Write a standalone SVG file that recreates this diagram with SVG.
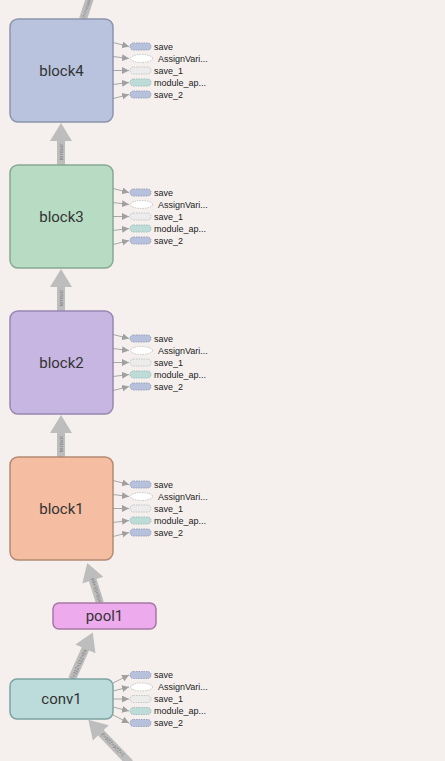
<svg xmlns="http://www.w3.org/2000/svg" width="445" height="761" viewBox="0 0 445 761">
<defs>
<marker id="ah" markerUnits="userSpaceOnUse" markerWidth="9" markerHeight="8" refX="7" refY="3.5" orient="auto"><path d="M0,0 L7,3.5 L0,7 z" fill="#a0a0a0"/></marker>
</defs>
<style>
.bg{fill:#f5f0ee}
.big{fill:#bdbdbd}
.elab{font-family:"Liberation Sans",Arial,sans-serif;font-size:6px;fill:#7a7a7a;text-anchor:middle;dominant-baseline:central}
.nlab{font-family:Roboto,"Liberation Sans",sans-serif;font-size:15px;fill:#333;text-anchor:middle;dominant-baseline:central}
.slab{font-family:"Liberation Sans",Arial,sans-serif;font-size:9px;fill:#222;dominant-baseline:central}
.side line{stroke:#a8a8a8;stroke-width:1;marker-end:url(#ah)}
.pill{stroke-width:1;stroke-dasharray:1.5 1}
.p-save{fill:#b7c1db;stroke:#9aa3bb}
.p-assign{fill:#ffffff;stroke:#c8c8c8}
.p-save1{fill:#ececec;stroke:#c6c6c6}
.p-mod{fill:#bddcd8;stroke:#a0bfbb}
.blk{stroke-width:1.5}
</style>
<rect class="bg" x="0" y="0" width="445" height="761"/>

<g id="connectors">
  <!-- top output of block4 -->
  <g transform="translate(83,19) rotate(18.4)">
    <polygon class="big" points="4,0 4,-40 -4,-40 -4,0"/>
    <text class="elab" style="font-size:4px" transform="translate(0,-8.5) rotate(-90)">1×7×7×2048</text>
  </g>
  <!-- block3 -> block4 -->
  <polygon class="big" points="61,123 72,141 65,141 65,165 57,165 57,141 50,141"/>
  <text class="elab" transform="translate(61,152) rotate(-90)">tensor</text>
  <!-- block2 -> block3 -->
  <polygon class="big" points="61,269 72,287 65,287 65,311 57,311 57,287 50,287"/>
  <text class="elab" transform="translate(61,298) rotate(-90)">tensor</text>
  <!-- block1 -> block2 -->
  <polygon class="big" points="61,415 72,433 65,433 65,457 57,457 57,433 50,433"/>
  <text class="elab" transform="translate(61,444) rotate(-90)">tensor</text>
  <!-- pool1 -> block1 -->
  <g transform="translate(100,603) rotate(-17.6)">
    <polygon class="big" points="0,-42 11,-24 4,-24 4,0 -4,0 -4,-24 -11,-24"/>
    <text class="elab" style="font-size:5px" transform="translate(0,-12) rotate(-90)">1×56×56×64</text>
  </g>
  <!-- conv1 -> pool1 -->
  <g transform="translate(72,679) rotate(24)">
    <polygon class="big" points="0,-51 11,-33 4,-33 4,0 -4,0 -4,-33 -11,-33"/>
    <text class="elab" style="font-size:5px" transform="translate(0,-16) rotate(-90)">1×112×112×64</text>
  </g>
  <!-- input -> conv1 -->
  <g transform="translate(130,763) rotate(-44)">
    <polygon class="big" points="0,-60 11,-42 4,-42 4,0 -4,0 -4,-42 -11,-42"/>
    <text class="elab" style="font-size:5px" transform="translate(0,-25) rotate(-90)">1×224×224×3</text>
  </g>

  <!-- side connectors -->
  <g class="side">
    <line x1="113" y1="42.5" x2="129" y2="46.5"/><line x1="113" y1="56.5" x2="129" y2="58.5"/><line x1="113" y1="70.5" x2="129" y2="70.5"/><line x1="113" y1="84.5" x2="129" y2="82.5"/><line x1="113" y1="98.5" x2="129" y2="94.5"/>
    <line x1="113" y1="188.5" x2="129" y2="192.5"/><line x1="113" y1="202.5" x2="129" y2="204.5"/><line x1="113" y1="216.5" x2="129" y2="216.5"/><line x1="113" y1="230.5" x2="129" y2="228.5"/><line x1="113" y1="244.5" x2="129" y2="240.5"/>
    <line x1="113" y1="334.5" x2="129" y2="338.5"/><line x1="113" y1="348.5" x2="129" y2="350.5"/><line x1="113" y1="362.5" x2="129" y2="362.5"/><line x1="113" y1="376.5" x2="129" y2="374.5"/><line x1="113" y1="390.5" x2="129" y2="386.5"/>
    <line x1="113" y1="480.5" x2="129" y2="484.5"/><line x1="113" y1="494.5" x2="129" y2="496.5"/><line x1="113" y1="508.5" x2="129" y2="508.5"/><line x1="113" y1="522.5" x2="129" y2="520.5"/><line x1="113" y1="536.5" x2="129" y2="532.5"/>
    <line x1="113" y1="683" x2="129" y2="675"/><line x1="113" y1="691" x2="129" y2="687"/><line x1="113" y1="699" x2="129" y2="699"/><line x1="113" y1="707" x2="129" y2="711"/><line x1="113" y1="715" x2="129" y2="723"/>
  </g>
</g>

<g id="block4">
  <rect class="blk" x="10" y="19" width="103" height="103" rx="8" fill="#b9c3de" stroke="#8b95ad"/>
  <text class="nlab" x="61.5" y="70.5">block4</text>
</g>
<g id="block4_side">
  <rect class="pill p-save" x="130" y="43" width="21" height="7" rx="3.5"/><text class="slab" x="154" y="46.5">save</text>
  <ellipse class="pill p-assign" cx="141.5" cy="58.5" rx="11" ry="4"/><text class="slab" x="158" y="58.5">AssignVari...</text>
  <rect class="pill p-save1" x="130" y="67" width="21" height="7" rx="3.5"/><text class="slab" x="154" y="70.5">save_1</text>
  <rect class="pill p-mod" x="130" y="79" width="21" height="7" rx="3.5"/><text class="slab" x="154" y="82.5">module_ap...</text>
  <rect class="pill p-save" x="130" y="91" width="21" height="7" rx="3.5"/><text class="slab" x="154" y="94.5">save_2</text>
</g>

<g id="block3">
  <rect class="blk" x="10" y="165" width="103" height="103" rx="8" fill="#b8dcc3" stroke="#87a892"/>
  <text class="nlab" x="61.5" y="216.5">block3</text>
</g>
<g id="block3_side">
  <rect class="pill p-save" x="130" y="189" width="21" height="7" rx="3.5"/><text class="slab" x="154" y="192.5">save</text>
  <ellipse class="pill p-assign" cx="141.5" cy="204.5" rx="11" ry="4"/><text class="slab" x="158" y="204.5">AssignVari...</text>
  <rect class="pill p-save1" x="130" y="213" width="21" height="7" rx="3.5"/><text class="slab" x="154" y="216.5">save_1</text>
  <rect class="pill p-mod" x="130" y="225" width="21" height="7" rx="3.5"/><text class="slab" x="154" y="228.5">module_ap...</text>
  <rect class="pill p-save" x="130" y="237" width="21" height="7" rx="3.5"/><text class="slab" x="154" y="240.5">save_2</text>
</g>

<g id="block2">
  <rect class="blk" x="10" y="311" width="103" height="103" rx="8" fill="#c7b6e2" stroke="#9787b1"/>
  <text class="nlab" x="61.5" y="362.5">block2</text>
</g>
<g id="block2_side">
  <rect class="pill p-save" x="130" y="335" width="21" height="7" rx="3.5"/><text class="slab" x="154" y="338.5">save</text>
  <ellipse class="pill p-assign" cx="141.5" cy="350.5" rx="11" ry="4"/><text class="slab" x="158" y="350.5">AssignVari...</text>
  <rect class="pill p-save1" x="130" y="359" width="21" height="7" rx="3.5"/><text class="slab" x="154" y="362.5">save_1</text>
  <rect class="pill p-mod" x="130" y="371" width="21" height="7" rx="3.5"/><text class="slab" x="154" y="374.5">module_ap...</text>
  <rect class="pill p-save" x="130" y="383" width="21" height="7" rx="3.5"/><text class="slab" x="154" y="386.5">save_2</text>
</g>

<g id="block1">
  <rect class="blk" x="10" y="457" width="103" height="103" rx="8" fill="#f5bda2" stroke="#b38973"/>
  <text class="nlab" x="61.5" y="508.5">block1</text>
</g>
<g id="block1_side">
  <rect class="pill p-save" x="130" y="481" width="21" height="7" rx="3.5"/><text class="slab" x="154" y="484.5">save</text>
  <ellipse class="pill p-assign" cx="141.5" cy="496.5" rx="11" ry="4"/><text class="slab" x="158" y="496.5">AssignVari...</text>
  <rect class="pill p-save1" x="130" y="505" width="21" height="7" rx="3.5"/><text class="slab" x="154" y="508.5">save_1</text>
  <rect class="pill p-mod" x="130" y="517" width="21" height="7" rx="3.5"/><text class="slab" x="154" y="520.5">module_ap...</text>
  <rect class="pill p-save" x="130" y="529" width="21" height="7" rx="3.5"/><text class="slab" x="154" y="532.5">save_2</text>
</g>

<g id="pool1">
  <rect class="blk" x="53" y="603" width="103" height="26" rx="6" fill="#edaaec" stroke="#a677a6"/>
  <text class="nlab" x="104.5" y="616">pool1</text>
</g>

<g id="conv1">
  <rect class="blk" x="10" y="679" width="103" height="40" rx="7" fill="#bcdcdb" stroke="#7ea2a2"/>
  <text class="nlab" x="61.5" y="699">conv1</text>
</g>
<g id="conv1_side">
  <rect class="pill p-save" x="130" y="671.5" width="21" height="7" rx="3.5"/><text class="slab" x="154" y="675">save</text>
  <ellipse class="pill p-assign" cx="141.5" cy="687" rx="11" ry="4"/><text class="slab" x="158" y="687">AssignVari...</text>
  <rect class="pill p-save1" x="130" y="695.5" width="21" height="7" rx="3.5"/><text class="slab" x="154" y="699">save_1</text>
  <rect class="pill p-mod" x="130" y="707.5" width="21" height="7" rx="3.5"/><text class="slab" x="154" y="711">module_ap...</text>
  <rect class="pill p-save" x="130" y="719.5" width="21" height="7" rx="3.5"/><text class="slab" x="154" y="723">save_2</text>
</g>
</svg>
